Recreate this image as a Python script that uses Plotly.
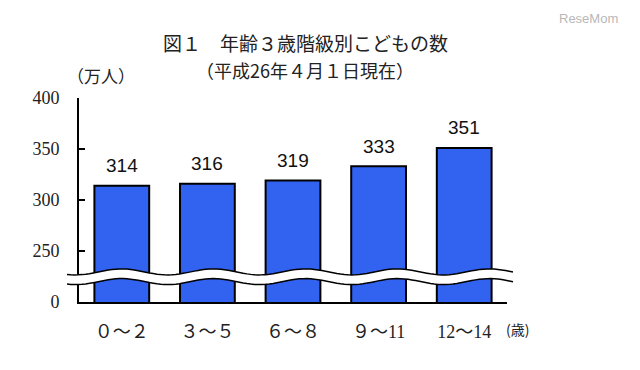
import numpy as np
import plotly.graph_objects as go

# ---- data ----
categories = ["０～２", "３～５", "６～８", "９～11", "12～14"]
values = [314, 316, 319, 333, 351]
tick_vals = [200, 250, 300, 350, 400]          # axis positions (200 stands for the broken-axis 0)
tick_text = ["0", "250", "300", "350", "400"]
title1 = "図１　年齢３歳階級別こどもの数"
title2 = "（平成26年４月１日現在）"
unit_label = "（万人）"
age_label = "(歳)"

Y_MIN, Y_MAX = 200, 400
BAR_COLOR = "#3263F0"
CJK = "Noto Sans CJK JP"
SERIF = "Liberation Serif, Noto Sans CJK JP"

fig = go.Figure()
fig.add_trace(go.Bar(
    x=categories, y=values,
    marker=dict(color=BAR_COLOR, line=dict(color="#000000", width=2)),
    width=0.64,
    hoverinfo="skip",
))

# value labels
for c, v in zip(categories, values):
    fig.add_annotation(x=c, y=v, text=str(v), showarrow=False,
                       yanchor="middle", yshift=20,
                       font=dict(family="Liberation Sans", size=19, color="#111"))

# axis break (wavy white band) in paper coordinates derived from axis values
def to_paper(v):
    return (v - Y_MIN) / (Y_MAX - Y_MIN)

xs = np.linspace(-0.028, 1.014, 120)
amp = 3.0 / 204
period = 92.0 / 428
phase = (121.5 - 79) / 428
wave = amp * np.cos(2 * np.pi * (xs - phase) / period)
upper = to_paper(229.5) + wave
lower = to_paper(220.0) + wave

def path_of(xv, yv):
    return "M " + " L ".join(f"{a:.4f},{b:.4f}" for a, b in zip(xv, yv))

band = path_of(np.concatenate([xs, xs[::-1]]), np.concatenate([upper, lower[::-1]])) + " Z"
fig.add_shape(type="path", path=band, xref="paper", yref="paper",
              fillcolor="white", line=dict(width=0), layer="above")
for yy in (upper, lower):
    fig.add_shape(type="path", path=path_of(xs, yy), xref="paper", yref="paper",
                  line=dict(color="#000", width=1.5), layer="above")

# titles and labels (positions relative to the plot area: 428 x 204 px)
annots = [
    (title1, 305, 42, 19),
    (title2, 305, 70, 18),
    (unit_label, 101, 75, 17),
]
for txt, px, py, sz in annots:
    fig.add_annotation(x=(px - 79) / 428, y=(302 - py) / 204, xref="paper", yref="paper",
                       text=txt, showarrow=False, xanchor="center", yanchor="middle",
                       font=dict(family=CJK, size=sz, color="#222"))
fig.add_annotation(x=(517 - 79) / 428, y=(302 - 329) / 204, xref="paper", yref="paper",
                   text=age_label, showarrow=False, xanchor="center", yanchor="middle",
                   font=dict(family=CJK, size=14, color="#222"))
fig.add_annotation(x=(588 - 79) / 428, y=(302 - 18) / 204, xref="paper", yref="paper",
                   text="ReseMom", showarrow=False, xanchor="center", yanchor="middle",
                   font=dict(family="Liberation Sans", size=13, color="#b8b8b8"))

# page body adds an 8px margin, so the figure is 8px smaller and shifted
fig.update_layout(
    width=632, height=362,
    margin=dict(l=71, r=133, t=90, b=68, autoexpand=False),
    paper_bgcolor="white", plot_bgcolor="white",
    showlegend=False,
    bargap=0.36,
)
fig.update_yaxes(range=[Y_MIN, Y_MAX], tickvals=tick_vals, ticktext=tick_text,
                 automargin=False,
                 showgrid=False, zeroline=False, showline=True, linecolor="#000", linewidth=2,
                 ticks="inside", ticklen=6, tickwidth=2, tickcolor="#000",
                 ticklabelstandoff=14,
                 tickfont=dict(family=SERIF, size=18, color="#222"))
fig.update_xaxes(automargin=False,
                 showgrid=False, zeroline=False, showline=True, linecolor="#000", linewidth=2,
                 ticks="", ticklabelstandoff=12,
                 tickfont=dict(family=SERIF, size=18, color="#222"))

fig.write_html("out.html")
